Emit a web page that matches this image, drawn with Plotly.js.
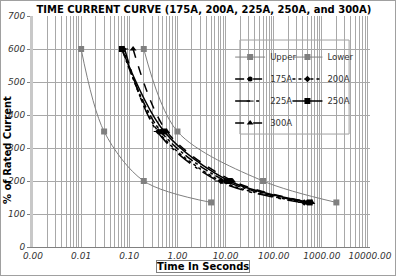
<!DOCTYPE html>
<html>
<head>
<meta charset="utf-8">
<script src="https://cdn.plot.ly/plotly-3.0.1.min.js"></script>
<style>
html,body{margin:0;padding:0;background:#fff;}
#chart{width:394px;height:274px;border:1px solid #a0a0a0;}
</style>
</head>
<body>
<div id="chart"></div>
<script>
// ---- data ----
var pct = [600, 350, 200, 135];
var upperT = [0.2, 1.0, 60, 2000];
var lowerT = [0.01, 0.03, 0.2, 5];
var t175 = [0.07, 0.45, 10, 500];
var t200 = [0.075, 0.40, 8, 430];
var t225 = [0.08, 0.38, 7, 380];
var t250 = [0.07, 0.53, 12, 560];
var t300 = [0.12, 0.60, 14, 620];
var decades = [0.001, 0.01, 0.1, 1, 10, 100, 1000, 10000];
var decadeLabels = ["0.00", "0.01", "0.10", "1.00", "10.00", "100.00", "1000.00", "10000.00"];
var yTicks = [0, 100, 200, 300, 400, 500, 600, 700];

var tickvals = [], ticktext = [];
for (var i = 0; i < decades.length; i++) {
  tickvals.push(decades[i]); ticktext.push(decadeLabels[i]);
  if (i < decades.length - 1) {
    for (var k = 2; k <= 9; k++) { tickvals.push(decades[i] * k); ticktext.push(""); }
  }
}

var F = "DejaVu Sans, Verdana, sans-serif";
function tr(name, x, opts) {
  return {
    x: x, y: pct, name: name, type: "scatter", mode: "lines+markers",
    line: {shape: "spline", smoothing: 0.9, color: opts.color, width: opts.width, dash: opts.dash},
    marker: {symbol: opts.symbol, size: opts.size, color: opts.color},
    legend: opts.legend, legendgroup: name, cliponaxis: false
  };
}
var data = [
  tr("Upper", upperT, {color: "#808080", width: 1, dash: "solid", symbol: "square", size: 6, legend: "legend"}),
  tr("Lower", lowerT, {color: "#808080", width: 1, dash: "solid", symbol: "square", size: 6, legend: "legend2"}),
  tr("175A", t175, {color: "#000", width: 1.5, dash: "dashdot", symbol: "circle", size: 5, legend: "legend"}),
  tr("200A", t200, {color: "#000", width: 1.5, dash: "dot", symbol: "diamond", size: 5, legend: "legend2"}),
  tr("225A", t225, {color: "#000", width: 1.5, dash: "longdashdot", symbol: "line-ew-open", size: 5, legend: "legend"}),
  tr("250A", t250, {color: "#000", width: 1.5, dash: "solid", symbol: "square", size: 6, legend: "legend2"}),
  tr("300A", t300, {color: "#000", width: 1.5, dash: "dash", symbol: "triangle-up", size: 6, legend: "legend"})
];

var legCommon = {
  bgcolor: "rgba(0,0,0,0)", borderwidth: 0, font: {family: F, size: 8.5, color: "#333"},
  xanchor: "left", yanchor: "top", orientation: "v", tracegroupgap: 3, itemwidth: 30
};
var leg1 = Object.assign({}, legCommon, {x: 0.585, y: 0.885});
var leg2 = Object.assign({}, legCommon, {x: 0.755, y: 0.885});

var layout = {
  width: 394, height: 274,
  margin: {l: 32, r: 25, t: 15, b: 28},
  paper_bgcolor: "#fff", plot_bgcolor: "#fff",
  showlegend: true,
  legend: leg1, legend2: leg2,
  title: {text: "TIME CURRENT CURVE (175A, 200A, 225A, 250A, and 300A)",
    font: {family: F, size: 10, color: "#000", weight: "bold"},
    x: 0.515, xanchor: "center", y: 0.968, yanchor: "middle", yref: "container"},
  xaxis: {
    type: "log", range: [-3, 4], tickmode: "array", tickvals: tickvals, ticktext: ticktext,
    showgrid: true, gridcolor: "#a8a8a8", gridwidth: 1,
    showline: true, linecolor: "#808080", linewidth: 1, ticks: "",
    tickfont: {family: F, size: 9, color: "#333", style: "italic"}, zeroline: false
  },
  yaxis: {
    range: [0, 700], tickmode: "array", tickvals: yTicks,
    showgrid: true, gridcolor: "#a8a8a8", gridwidth: 1,
    showline: true, linecolor: "#c8c8c8", linewidth: 3,
    ticks: "outside", ticklen: 3, tickcolor: "#808080",
    tickfont: {family: F, size: 9, color: "#333", style: "italic"}, zeroline: false
  },
  shapes: [{
    type: "rect", xref: "paper", yref: "paper", x0: 0.614, x1: 0.938, y0: 0.489, y1: 0.896,
    line: {color: "#a0a0a0", width: 1}, fillcolor: "#fff", layer: "between"
  }],
  annotations: [
    {text: "<b>Time In Seconds</b>", xref: "paper", yref: "paper", x: 0.503, y: -0.058,
     xanchor: "center", yanchor: "top", showarrow: false,
     font: {family: F, size: 10, color: "#000"}, bordercolor: "#808080", borderwidth: 1, borderpad: 0, bgcolor: "#fff"},
    {text: "<b>% of Rated Current</b>", xref: "paper", yref: "paper", x: -0.074, y: 0.42,
     xanchor: "center", yanchor: "middle", textangle: -90, showarrow: false,
     font: {family: F, size: 10, color: "#000"}}
  ]
};
Plotly.newPlot("chart", data, layout, {displayModeBar: false, staticPlot: true});
</script>
</body>
</html>
